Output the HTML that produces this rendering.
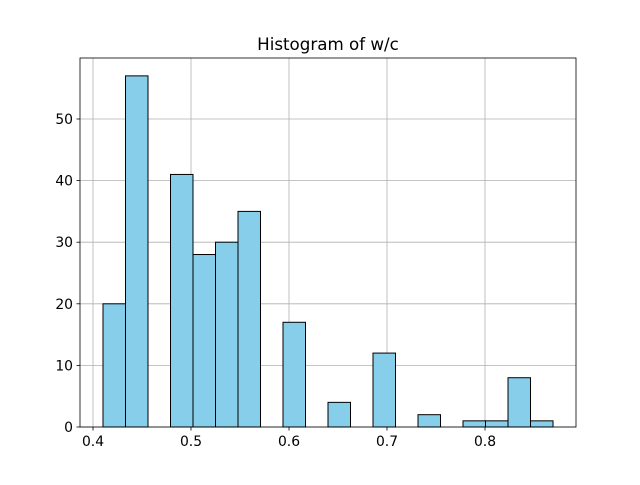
<!DOCTYPE html>
<html><head><meta charset="utf-8"><style>
body{margin:0;background:#fff;}
svg text{font-family:"DejaVu Sans","Liberation Sans",sans-serif;}
</style></head><body>
<svg id="chart" width="640" height="480" xmlns="http://www.w3.org/2000/svg">
<rect width="640" height="480" fill="#fff"/>
<text x="328" y="50" text-anchor="middle" font-size="16.7">Histogram of w/c</text>
<g id="grid"></g><g id="bars"></g><g id="axes"></g>
</svg>
<script>
const binStart = 0.4102;
const binWidth = 0.02296;
const counts = [20,57,0,41,28,30,35,0,17,0,4,0,12,0,2,0,1,1,8,1];
const xTicks = [0.4,0.5,0.6,0.7,0.8];
const yTicks = [0,10,20,30,40,50];
const L=80,R=576,T=58,B=427;
function xs(v){return 93+(v-0.4)*980;}
function ys(v){return 427-v*6.16;}
const NS="http://www.w3.org/2000/svg";
function mk(tag,attrs,parent){const e=document.createElementNS(NS,tag);for(const k in attrs)e.setAttribute(k,attrs[k]);document.getElementById(parent).appendChild(e);return e;}
xTicks.forEach(t=>{
  const g=mk('line',{x1:xs(t),x2:xs(t),y1:T,y2:B,stroke:'#b0b0b0','stroke-width':0.8},'grid');
  
  
});
yTicks.forEach(t=>{
  const g=mk('line',{x1:L,x2:R,y1:ys(t),y2:ys(t),stroke:'#b0b0b0','stroke-width':0.8},'grid');
  
  
});
counts.forEach((c,i)=>{
  if(c<=0)return;
  const x0=xs(binStart+i*binWidth),x1=xs(binStart+(i+1)*binWidth);
  const r=mk('rect',{x:x0,y:ys(c),width:x1-x0,height:ys(0)-ys(c),fill:'#87ceeb',stroke:'#000','stroke-width':1},'bars');
  
  
});
const f=mk('rect',{x:L,y:T,width:R-L,height:B-T,fill:'none',stroke:'#000','stroke-width':0.8},'axes');


xTicks.forEach(t=>{
  mk('line',{x1:xs(t),x2:xs(t),y1:B,y2:B+3.5,stroke:'#000','stroke-width':0.8},'axes');
  const tx=mk('text',{x:xs(t),y:B+19,'text-anchor':'middle','font-size':13.9},'axes');
  tx.textContent=t.toFixed(1);
  
  
});
yTicks.forEach(t=>{
  mk('line',{x1:L-3.5,x2:L,y1:ys(t),y2:ys(t),stroke:'#000','stroke-width':0.8},'axes');
  const tx=mk('text',{x:L-7,y:ys(t)+5,'text-anchor':'end','font-size':13.9},'axes');
  tx.textContent=t;
  
  
});
</script>
</body></html>
